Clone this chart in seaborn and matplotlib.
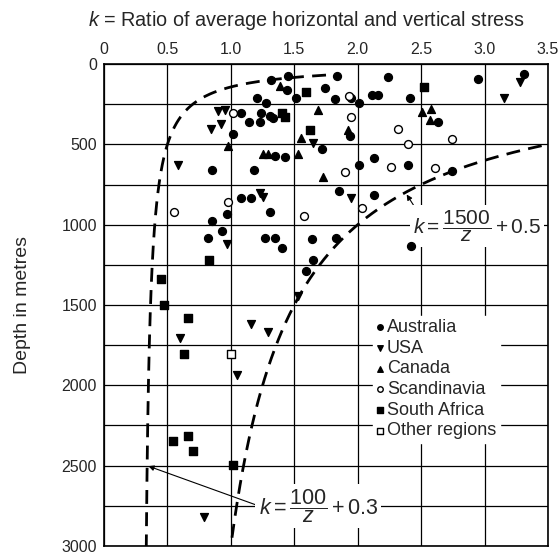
import numpy as np
import pandas as pd
import matplotlib
matplotlib.use("Agg")
import matplotlib.pyplot as plt
import seaborn as sns

# ---------------- data (k, depth z in metres) ----------------
australia_k = [1.32, 1.45, 1.44, 1.21, 1.28, 1.51, 1.08, 1.24, 1.31, 1.33, 1.14, 1.23, 1.02,
               1.35, 1.43, 0.85, 1.18, 1.84, 1.74, 1.82, 1.95, 2.01, 2.11, 2.16, 2.24, 2.41,
               2.63, 1.94, 1.72, 2.13, 2.01, 2.40, 2.95, 3.31, 2.74, 1.85, 2.13, 1.64, 1.83,
               2.42, 1.65, 1.59, 1.08, 1.16, 1.31, 0.97, 0.85, 0.93, 0.82, 1.27, 1.35, 1.40]
australia_z = [100, 75, 164, 210, 241, 210, 303, 307, 324, 334, 359, 361, 434,
               572, 579, 660, 660, 75, 151, 220, 213, 241, 193, 193, 81, 213,
               361, 448, 531, 583, 630, 627, 95, 60, 664, 790, 815, 1087, 1083,
               1133, 1221, 1286, 836, 836, 920, 933, 977, 1042, 1086, 1083, 1083, 1147]

usa_k = [0.90, 0.95, 0.84, 0.92, 1.65, 3.28, 3.15, 0.58, 1.23, 1.25, 1.95, 0.97,
         1.53, 1.16, 1.29, 0.60, 1.05, 0.79]
usa_z = [295, 285, 406, 375, 490, 110, 213, 628, 803, 830, 836, 1120,
         1442, 1618, 1666, 1707, 1935, 2821]

canada_k = [1.39, 1.69, 0.98, 1.55, 1.25, 1.29, 1.53, 2.51, 2.58, 2.57, 1.92, 1.73]
canada_z = [137, 287, 510, 459, 558, 558, 562, 297, 282, 350, 413, 705]

scand_k = [1.02, 1.93, 1.95, 2.32, 2.40, 2.74, 1.90, 2.26, 2.61, 2.03, 1.58, 0.98, 0.55]
scand_z = [303, 199, 328, 406, 496, 468, 672, 644, 649, 898, 946, 859, 919]

safrica_k = [1.59, 2.52, 1.40, 1.43, 1.62, 0.83, 0.45, 0.47, 0.66, 0.63, 0.54, 0.66, 0.70, 1.02]
safrica_z = [174, 143, 305, 330, 408, 1220, 1338, 1500, 1582, 1805, 2344, 2313, 2406, 2495]

other_k = [1.00]
other_z = [1805]

x_ticks = [0, 0.5, 1.0, 1.5, 2.0, 2.5, 3.0, 3.5]
x_ticklabels = ["0", "0.5", "1.0", "1.5", "2.0", "2.5", "3.0", "3.5"]
y_ticks = [0, 500, 1000, 1500, 2000, 2500, 3000]

# ---------------- styling ----------------
sns.set_style("white")
plt.rcParams["font.family"] = ["Liberation Sans", "DejaVu Sans"]
plt.rcParams["mathtext.fontset"] = "custom"
plt.rcParams["mathtext.rm"] = "Liberation Sans"
plt.rcParams["mathtext.it"] = "Liberation Sans:italic"
plt.rcParams["mathtext.bf"] = "Liberation Sans:bold"

fig = plt.figure(figsize=(5.59, 5.59), dpi=100)
ax = fig.add_axes([104 / 559, 13 / 559, 444 / 559, 482 / 559])

groups = [
    ("Australia", australia_k, australia_z, "o", "black"),
    ("USA", usa_k, usa_z, "v", "black"),
    ("Canada", canada_k, canada_z, "^", "black"),
    ("Scandinavia", scand_k, scand_z, "o", "white"),
    ("South Africa", safrica_k, safrica_z, "s", "black"),
    ("Other regions", other_k, other_z, "s", "white"),
]

for name, ks, zs, mk, fc in groups:
    df = pd.DataFrame({"k": ks, "z": zs})
    sns.scatterplot(data=df, x="k", y="z", ax=ax, marker=mk, color=fc,
                    edgecolor="black", linewidth=1.0, s=32, label=name, zorder=4)

# formula curves
z1 = np.linspace(100 / (1.75 - 0.3), 3000, 600)
ax.plot(100 / z1 + 0.3, z1, color="black", lw=2.0, ls=(0, (5, 3)), zorder=4)
z2 = np.linspace(1500 / (3.45 - 0.5), 3000, 600)
ax.plot(1500 / z2 + 0.5, z2, color="black", lw=2.0, ls=(0, (5, 3)), zorder=4)

# axes
ax.set_xlim(0, 3.5)
ax.set_ylim(3000, 0)
ax.xaxis.tick_top()
ax.set_xticks(x_ticks)
ax.set_xticklabels(x_ticklabels)
ax.set_yticks(y_ticks)
ax.set_yticks(np.arange(250, 3000, 500), minor=True)
ax.tick_params(axis="both", which="both", length=0, labelsize=11.5, pad=5)
ax.grid(True, which="both", color="black", lw=0.9)
ax.set_axisbelow(True)
for sp in ax.spines.values():
    sp.set_color("black")
    sp.set_linewidth(1.2)
ax.set_xlabel("")
ax.set_ylabel("Depth in metres", fontsize=14)
ax.yaxis.set_label_coords(-0.165, 0.5)

fig.text(307 / 559, 1 - 20 / 559, r"$k$ = Ratio of average horizontal and vertical stress",
         ha="center", va="center", fontsize=14.3)

# annotations
bbox = dict(boxstyle="square,pad=0.15", fc="white", ec="none")
ax.annotate(r"$k = \dfrac{1500}{z} + 0.5$", xy=(2.38, 805), xytext=(2.94, 1010),
            ha="center", va="center", fontsize=15, bbox=bbox, zorder=3,
            arrowprops=dict(arrowstyle="-|>", color="black", lw=0.8, mutation_scale=8,
                            relpos=(0.06, 0.78), shrinkA=0, shrinkB=1))
ax.annotate(r"$k = \dfrac{100}{z} + 0.3$", xy=(0.34, 2500), xytext=(1.69, 2750),
            ha="center", va="center", fontsize=15.5, bbox=bbox, zorder=3,
            arrowprops=dict(arrowstyle="-|>", color="black", lw=0.8, mutation_scale=8,
                            relpos=(0.0, 0.5), shrinkA=0, shrinkB=1))

leg = ax.legend(loc="upper left", bbox_to_anchor=(0.605, 0.478), frameon=True,
                fontsize=13, handlelength=0.45, handletextpad=0.15, labelspacing=0.2,
                borderpad=0.2, borderaxespad=0, markerscale=0.7, fancybox=False)
leg.get_frame().set_facecolor("white")
leg.get_frame().set_edgecolor("white")
leg.get_frame().set_alpha(1)
leg.set_zorder(3)

fig.savefig("out.png", dpi=100)
